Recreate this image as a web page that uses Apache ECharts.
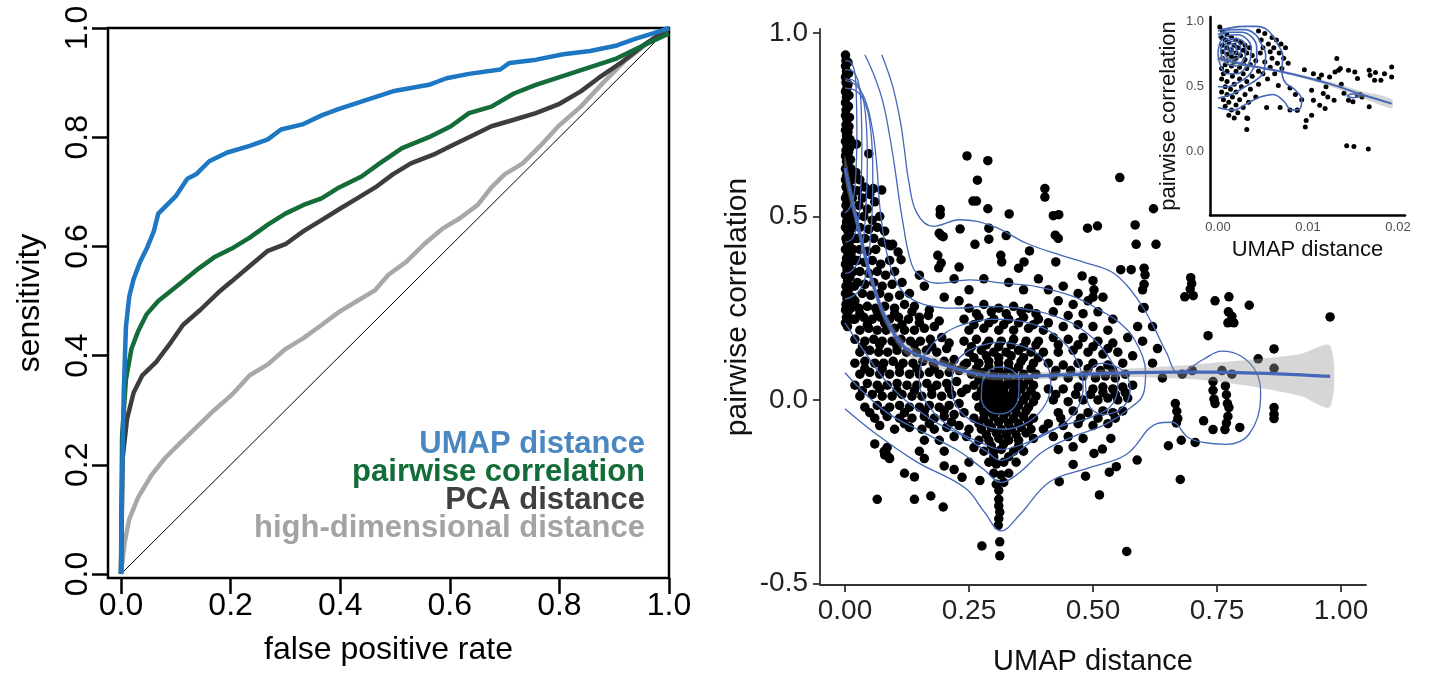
<!DOCTYPE html>
<html>
<head>
<meta charset="utf-8">
<script src="https://cdn.jsdelivr.net/npm/echarts@6/dist/echarts.min.js"></script>
<style>html,body{margin:0;padding:0;background:#fff;}#c{width:1429px;height:685px;}</style>
</head>
<body>
<div id="c"></div>
<script>
// ---------------- ROC curves (left panel) ----------------
const rocTicks = [0, 0.2, 0.4, 0.6, 0.8, 1.0];
const rocDiagonal = [[0, 0], [1, 1]];
const rocUmap = [[0,0],[0.002,0.172],[0.005,0.332],[0.009,0.452],[0.015,0.508],[0.023,0.54],[0.035,0.572],[0.047,0.596],[0.06,0.628],[0.068,0.66],[0.084,0.676],[0.1,0.692],[0.121,0.724],[0.137,0.732],[0.161,0.756],[0.194,0.772],[0.235,0.784],[0.268,0.796],[0.292,0.814],[0.333,0.824],[0.366,0.84],[0.398,0.852],[0.447,0.868],[0.496,0.884],[0.562,0.896],[0.594,0.908],[0.635,0.916],[0.692,0.924],[0.709,0.936],[0.758,0.942],[0.807,0.952],[0.856,0.958],[0.905,0.968],[0.938,0.98],[0.971,0.99],[1,1]];
const rocPairwise = [[0,0],[0.002,0.252],[0.009,0.356],[0.019,0.412],[0.031,0.444],[0.047,0.476],[0.068,0.5],[0.088,0.516],[0.113,0.536],[0.137,0.556],[0.17,0.58],[0.202,0.596],[0.235,0.616],[0.268,0.64],[0.3,0.66],[0.333,0.676],[0.366,0.688],[0.398,0.708],[0.439,0.728],[0.472,0.752],[0.513,0.78],[0.562,0.8],[0.602,0.82],[0.635,0.844],[0.676,0.856],[0.717,0.88],[0.757,0.896],[0.806,0.912],[0.855,0.928],[0.904,0.944],[0.953,0.968],[1,0.99]];
const rocPca = [[0,0],[0.003,0.212],[0.011,0.284],[0.023,0.332],[0.039,0.364],[0.064,0.388],[0.088,0.42],[0.113,0.456],[0.145,0.484],[0.178,0.516],[0.202,0.536],[0.235,0.564],[0.268,0.592],[0.3,0.604],[0.333,0.628],[0.366,0.648],[0.398,0.668],[0.431,0.688],[0.464,0.708],[0.496,0.732],[0.529,0.752],[0.57,0.768],[0.602,0.784],[0.635,0.8],[0.676,0.82],[0.717,0.832],[0.757,0.844],[0.798,0.86],[0.839,0.884],[0.871,0.908],[0.912,0.936],[0.953,0.968],[1,1]];
const rocHighDim = [[0,0],[0.007,0.06],[0.015,0.1],[0.031,0.14],[0.055,0.18],[0.08,0.212],[0.104,0.236],[0.137,0.268],[0.17,0.3],[0.202,0.328],[0.235,0.364],[0.268,0.384],[0.3,0.412],[0.333,0.432],[0.366,0.456],[0.398,0.48],[0.431,0.5],[0.464,0.52],[0.488,0.548],[0.521,0.572],[0.553,0.604],[0.586,0.632],[0.619,0.652],[0.651,0.676],[0.676,0.708],[0.7,0.732],[0.733,0.752],[0.765,0.784],[0.798,0.82],[0.839,0.856],[0.88,0.9],[0.92,0.94],[0.961,0.972],[1,1]];
const rocLegend = ["UMAP distance", "pairwise correlation", "PCA distance", "high-dimensional distance"];

// ---------------- Main scatter (right panel) ----------------
const mainXTicks = [0, 0.25, 0.5, 0.75, 1.0];
const mainYTicks = [-0.5, 0, 0.5, 1.0];
const ptsColumn = [[0.001,0.94],[0.002,0.925],[0.001,0.91],[0.003,0.895],[0.001,0.88],[0.002,0.865],[0.004,0.85],[0.001,0.84],[0.003,0.825],[0.001,0.81],[0.005,0.8],[0.002,0.79],[0.001,0.775],[0.004,0.765],[0.002,0.75],[0.001,0.735],[0.006,0.73],[0.003,0.72],[0.001,0.705],[0.004,0.695],[0.002,0.68],[0.007,0.675],[0.001,0.665],[0.003,0.65],[0.005,0.64],[0.001,0.63],[0.008,0.62],[0.003,0.61],[0.001,0.6],[0.006,0.59],[0.002,0.58],[0.009,0.57],[0.004,0.56],[0.001,0.55],[0.007,0.54],[0.002,0.53],[0.011,0.525],[0.005,0.515],[0.001,0.505],[0.008,0.495],[0.003,0.485],[0.013,0.48],[0.001,0.47],[0.006,0.46],[0.01,0.45],[0.002,0.44],[0.004,0.43],[0.009,0.42],[0.001,0.41],[0.006,0.4],[0.012,0.395],[0.003,0.385],[0.001,0.37],[0.008,0.365],[0.004,0.355],[0.001,0.34],[0.01,0.335],[0.005,0.325],[0.002,0.31],[0.007,0.3],[0.001,0.29],[0.004,0.275],[0.009,0.27],[0.002,0.26],[0.001,0.245],[0.006,0.24],[0.003,0.225],[0.001,0.21],[0.005,0.2],[0.006,0.92],[0.007,0.89],[0.006,0.86],[0.008,0.83],[0.007,0.8],[0.009,0.77],[0.008,0.745],[0.01,0.71],[0.009,0.685],[0.011,0.655],[0.012,0.63],[0.013,0.6],[0.012,0.575],[0.015,0.55],[0.014,0.51],[0.016,0.47],[0.018,0.44],[0.016,0.41],[0.02,0.38],[0.017,0.35],[0.019,0.31],[0.014,0.28],[0.012,0.25],[0.016,0.22]];
const ptsLeft = [[0.022,0.62],[0.03,0.6],[0.025,0.57],[0.04,0.58],[0.035,0.55],[0.05,0.56],[0.028,0.53],[0.045,0.52],[0.06,0.54],[0.022,0.5],[0.038,0.5],[0.055,0.49],[0.07,0.5],[0.03,0.47],[0.048,0.465],[0.065,0.47],[0.08,0.46],[0.025,0.44],[0.04,0.44],[0.058,0.44],[0.075,0.43],[0.092,0.42],[0.03,0.41],[0.045,0.405],[0.062,0.41],[0.025,0.38],[0.04,0.375],[0.055,0.38],[0.072,0.37],[0.09,0.38],[0.03,0.35],[0.048,0.345],[0.065,0.35],[0.082,0.34],[0.1,0.35],[0.025,0.32],[0.04,0.315],[0.058,0.32],[0.075,0.31],[0.095,0.315],[0.115,0.32],[0.035,0.29],[0.052,0.285],[0.07,0.29],[0.088,0.28],[0.11,0.285],[0.13,0.29],[0.02,0.27],[0.028,0.25],[0.045,0.255],[0.062,0.25],[0.08,0.255],[0.1,0.25],[0.12,0.26],[0.14,0.255],[0.02,0.22],[0.038,0.225],[0.055,0.22],[0.072,0.225],[0.09,0.22],[0.108,0.225],[0.128,0.22],[0.15,0.225],[0.168,0.23],[0.03,0.19],[0.048,0.195],[0.065,0.19],[0.083,0.19],[0.1,0.195],[0.12,0.19],[0.14,0.19],[0.16,0.195],[0.18,0.2],[0.02,0.165],[0.04,0.16],[0.058,0.165],[0.075,0.16],[0.095,0.16],[0.113,0.165],[0.132,0.16],[0.152,0.16],[0.172,0.165],[0.195,0.17],[0.03,0.13],[0.05,0.135],[0.068,0.13],[0.086,0.13],[0.105,0.135],[0.124,0.13],[0.144,0.13],[0.164,0.135],[0.185,0.13],[0.205,0.14],[0.02,0.1],[0.04,0.105],[0.06,0.1],[0.078,0.1],[0.097,0.105],[0.117,0.1],[0.137,0.1],[0.157,0.105],[0.178,0.1],[0.2,0.105],[0.22,0.11],[0.03,0.07],[0.05,0.075],[0.07,0.07],[0.09,0.07],[0.11,0.075],[0.13,0.07],[0.15,0.07],[0.17,0.075],[0.19,0.07],[0.21,0.075],[0.23,0.08],[0.02,0.04],[0.045,0.045],[0.065,0.04],[0.085,0.04],[0.105,0.045],[0.125,0.04],[0.145,0.04],[0.165,0.045],[0.185,0.04],[0.205,0.045],[0.225,0.05],[0.03,0.01],[0.055,0.015],[0.075,0.01],[0.095,0.01],[0.115,0.015],[0.135,0.01],[0.155,0.01],[0.175,0.015],[0.195,0.01],[0.215,0.015],[0.235,0.02],[0.04,-0.02],[0.065,-0.015],[0.09,-0.02],[0.11,-0.015],[0.13,-0.02],[0.15,-0.02],[0.17,-0.015],[0.19,-0.02],[0.21,-0.015],[0.23,-0.01],[0.06,-0.05],[0.085,-0.045],[0.11,-0.05],[0.135,-0.05],[0.16,-0.045],[0.18,-0.05],[0.2,-0.045],[0.22,-0.04],[0.1,-0.08],[0.13,-0.075],[0.155,-0.08],[0.18,-0.08],[0.205,-0.075],[0.23,-0.07],[0.085,-0.13],[0.08,-0.15],[0.09,-0.16],[0.16,-0.11],[0.19,-0.11],[0.22,-0.1],[0.15,-0.14],[0.2,-0.14],[0.26,-0.13]];
const ptsLeftFill = [[0.03,0.235],[0.065,0.24],[0.1,0.235],[0.135,0.24],[0.17,0.245],[0.045,0.205],[0.08,0.21],[0.115,0.205],[0.15,0.21],[0.19,0.215],[0.035,0.145],[0.07,0.15],[0.105,0.145],[0.14,0.15],[0.175,0.145],[0.21,0.155],[0.04,0.085],[0.075,0.085],[0.11,0.09],[0.145,0.085],[0.18,0.085],[0.215,0.09],[0.24,0.095],[0.035,0.025],[0.07,0.03],[0.105,0.025],[0.14,0.025],[0.175,0.03],[0.21,0.03],[0.245,0.03],[0.05,-0.035],[0.08,-0.03],[0.12,-0.035],[0.16,-0.03],[0.2,-0.03],[0.24,-0.035],[0.07,-0.07],[0.12,-0.065],[0.17,-0.065],[0.215,-0.06],[0.245,-0.1]];
const ptsCenter = [[0.25,0.25],[0.28,0.26],[0.31,0.25],[0.34,0.255],[0.37,0.25],[0.24,0.22],[0.27,0.225],[0.3,0.22],[0.33,0.22],[0.36,0.225],[0.39,0.22],[0.25,0.19],[0.28,0.195],[0.31,0.19],[0.34,0.19],[0.37,0.195],[0.4,0.19],[0.24,0.16],[0.265,0.165],[0.29,0.16],[0.315,0.16],[0.34,0.165],[0.365,0.16],[0.39,0.16],[0.25,0.13],[0.275,0.135],[0.3,0.13],[0.325,0.13],[0.35,0.135],[0.375,0.13],[0.4,0.13],[0.245,0.1],[0.27,0.1],[0.29,0.105],[0.31,0.1],[0.33,0.1],[0.355,0.105],[0.38,0.1],[0.255,0.07],[0.28,0.075],[0.3,0.07],[0.32,0.07],[0.34,0.075],[0.36,0.07],[0.385,0.07],[0.26,0.04],[0.28,0.04],[0.295,0.045],[0.31,0.04],[0.325,0.04],[0.34,0.045],[0.36,0.04],[0.38,0.04],[0.265,0.01],[0.285,0.01],[0.3,0.015],[0.315,0.01],[0.33,0.01],[0.345,0.015],[0.365,0.01],[0.385,0.01],[0.27,-0.02],[0.29,-0.02],[0.305,-0.015],[0.32,-0.02],[0.335,-0.02],[0.35,-0.015],[0.37,-0.02],[0.26,-0.05],[0.28,-0.05],[0.3,-0.045],[0.32,-0.05],[0.34,-0.05],[0.36,-0.045],[0.38,-0.05],[0.25,-0.08],[0.275,-0.08],[0.295,-0.075],[0.315,-0.08],[0.335,-0.08],[0.355,-0.075],[0.375,-0.08],[0.4,-0.08],[0.27,-0.11],[0.29,-0.11],[0.31,-0.105],[0.33,-0.11],[0.35,-0.11],[0.38,-0.105],[0.28,-0.14],[0.3,-0.14],[0.315,-0.135],[0.34,-0.14],[0.36,-0.14],[0.29,-0.17],[0.305,-0.175],[0.32,-0.17],[0.345,-0.17],[0.3,-0.2],[0.315,-0.205],[0.33,-0.2],[0.305,-0.23],[0.32,-0.225],[0.31,-0.247],[0.31,-0.271],[0.31,-0.289],[0.312,-0.306],[0.31,-0.324],[0.309,-0.342],[0.312,-0.387],[0.312,-0.425],[0.276,-0.398]];
const ptsCenterFill = [[0.265,0.235],[0.295,0.24],[0.325,0.235],[0.355,0.24],[0.385,0.235],[0.26,0.205],[0.29,0.21],[0.32,0.205],[0.35,0.21],[0.38,0.205],[0.255,0.145],[0.285,0.15],[0.31,0.145],[0.335,0.15],[0.36,0.145],[0.385,0.15],[0.26,0.115],[0.285,0.12],[0.31,0.115],[0.335,0.12],[0.36,0.115],[0.39,0.115],[0.265,0.085],[0.29,0.09],[0.31,0.085],[0.33,0.085],[0.35,0.09],[0.375,0.085],[0.27,0.055],[0.29,0.055],[0.31,0.055],[0.33,0.055],[0.35,0.055],[0.37,0.055],[0.275,0.025],[0.29,0.025],[0.305,0.03],[0.32,0.025],[0.34,0.025],[0.355,0.03],[0.375,0.025],[0.28,-0.005],[0.295,-0.005],[0.31,0.0],[0.325,-0.005],[0.34,-0.005],[0.36,0.0],[0.38,-0.005],[0.28,-0.035],[0.295,-0.035],[0.31,-0.03],[0.325,-0.035],[0.345,-0.035],[0.365,-0.03],[0.27,-0.065],[0.29,-0.065],[0.31,-0.06],[0.33,-0.065],[0.35,-0.065],[0.37,-0.06],[0.285,-0.095],[0.305,-0.09],[0.325,-0.095],[0.345,-0.095],[0.365,-0.09],[0.295,-0.125],[0.32,-0.12],[0.35,-0.125],[0.3,-0.155],[0.33,-0.155]];
const ptsMid = [[0.41,0.3],[0.44,0.31],[0.47,0.29],[0.43,0.27],[0.46,0.26],[0.49,0.27],[0.52,0.28],[0.42,0.24],[0.45,0.23],[0.48,0.235],[0.51,0.24],[0.54,0.22],[0.41,0.21],[0.44,0.2],[0.47,0.205],[0.5,0.2],[0.53,0.19],[0.42,0.17],[0.45,0.165],[0.48,0.17],[0.51,0.16],[0.54,0.155],[0.57,0.17],[0.43,0.13],[0.46,0.135],[0.49,0.13],[0.52,0.125],[0.55,0.13],[0.41,0.1],[0.44,0.095],[0.47,0.1],[0.5,0.1],[0.53,0.095],[0.56,0.1],[0.42,0.065],[0.45,0.06],[0.48,0.065],[0.505,0.06],[0.525,0.065],[0.545,0.06],[0.565,0.07],[0.41,0.03],[0.44,0.03],[0.47,0.035],[0.5,0.03],[0.52,0.035],[0.54,0.03],[0.56,0.035],[0.58,0.04],[0.42,0.0],[0.45,-0.005],[0.48,0.0],[0.51,0.0],[0.53,0.005],[0.55,0.0],[0.57,0.005],[0.43,-0.035],[0.46,-0.03],[0.49,-0.035],[0.52,-0.03],[0.54,-0.035],[0.56,-0.03],[0.41,-0.065],[0.44,-0.07],[0.47,-0.065],[0.5,-0.07],[0.53,-0.065],[0.42,-0.1],[0.45,-0.1],[0.48,-0.105],[0.43,-0.135],[0.46,-0.128],[0.502,-0.146],[0.519,-0.134],[0.536,-0.105],[0.485,-0.208],[0.533,-0.197],[0.547,-0.182],[0.589,-0.164],[0.432,-0.223],[0.46,-0.176],[0.513,-0.259],[0.568,-0.413],[0.6,0.25],[0.6,0.3],[0.603,0.315],[0.605,0.341],[0.603,0.359],[0.577,0.355],[0.556,0.355],[0.59,0.2],[0.58,0.12],[0.6,0.16]];
const ptsMidFill = [[0.425,0.08],[0.455,0.08],[0.49,0.085],[0.515,0.08],[0.54,0.08],[0.425,0.015],[0.465,0.015],[0.495,0.015],[0.52,0.02],[0.545,0.015],[0.565,0.02],[0.435,-0.05],[0.475,-0.05],[0.51,-0.05],[0.545,-0.05],[0.43,0.15],[0.47,0.15],[0.5,0.145],[0.53,0.14]];
const ptsUpper = [[0.023,0.697],[0.048,0.671],[0.057,0.576],[0.074,0.572],[0.086,0.424],[0.096,0.424],[0.107,0.403],[0.113,0.382],[0.246,0.665],[0.288,0.652],[0.267,0.599],[0.258,0.542],[0.265,0.542],[0.288,0.521],[0.331,0.507],[0.192,0.519],[0.192,0.505],[0.19,0.454],[0.194,0.448],[0.198,0.445],[0.232,0.466],[0.29,0.468],[0.29,0.438],[0.325,0.448],[0.262,0.424],[0.372,0.406],[0.361,0.376],[0.35,0.359],[0.314,0.394],[0.316,0.376],[0.187,0.394],[0.194,0.373],[0.189,0.36],[0.23,0.362],[0.403,0.576],[0.403,0.553],[0.431,0.505],[0.42,0.502],[0.424,0.449],[0.43,0.44],[0.425,0.376],[0.478,0.338],[0.5,0.325],[0.502,0.3],[0.5,0.28],[0.489,0.468],[0.509,0.474],[0.585,0.477],[0.587,0.424],[0.627,0.424],[0.622,0.521],[0.554,0.606],[0.15,0.34],[0.16,0.31],[0.22,0.33],[0.25,0.3],[0.28,0.33],[0.33,0.32],[0.36,0.3],[0.39,0.33],[0.2,0.28],[0.23,0.27]];
const ptsRight = [[0.603,0.252],[0.697,0.333],[0.699,0.317],[0.696,0.302],[0.685,0.281],[0.702,0.284],[0.746,0.27],[0.774,0.281],[0.773,0.24],[0.78,0.228],[0.772,0.21],[0.784,0.21],[0.815,0.258],[0.978,0.226],[0.732,0.175],[0.833,0.112],[0.865,0.139],[0.865,0.086],[0.666,-0.01],[0.669,-0.031],[0.671,-0.051],[0.668,-0.063],[0.652,-0.125],[0.678,-0.11],[0.706,-0.116],[0.676,-0.217],[0.742,0.05],[0.742,0.026],[0.744,0.002],[0.746,-0.01],[0.767,0.038],[0.769,0.014],[0.771,-0.01],[0.774,-0.021],[0.772,-0.045],[0.769,-0.063],[0.766,-0.081],[0.742,-0.081],[0.796,-0.075],[0.723,-0.057],[0.865,-0.021],[0.865,-0.039],[0.865,-0.051],[0.62,0.1],[0.64,0.06],[0.68,0.07],[0.7,0.08],[0.76,0.08],[0.78,0.07],[0.62,0.2],[0.63,0.14]];
const ptsLower = [[0.065,-0.271],[0.14,-0.271],[0.173,-0.262],[0.198,-0.292],[0.236,-0.211],[0.272,-0.22],[0.079,-0.14],[0.084,-0.15],[0.089,-0.158],[0.06,-0.12],[0.2,-0.18],[0.22,-0.19],[0.25,-0.17],[0.12,-0.2],[0.14,-0.21],[0.16,-0.16]];

// density contours (main)
const contourC1 = [[0.074,0.941],[0.095,0.86],[0.111,0.764],[0.12,0.68],[0.128,0.6],[0.145,0.509],[0.178,0.473],[0.232,0.491],[0.299,0.473],[0.366,0.427],[0.433,0.395],[0.487,0.373],[0.536,0.35],[0.567,0.314],[0.598,0.258],[0.621,0.203],[0.648,0.129],[0.672,0.073],[0.691,0.083],[0.722,0.11],[0.76,0.133],[0.799,0.119],[0.83,0.073],[0.838,0.008],[0.815,-0.093],[0.768,-0.121],[0.722,-0.116],[0.691,-0.102],[0.66,-0.061],[0.629,-0.065],[0.567,-0.149],[0.49,-0.186],[0.413,-0.223],[0.351,-0.315],[0.315,-0.357],[0.281,-0.306],[0.243,-0.241],[0.142,-0.167],[0.06,-0.09],[0,-0.024]];
const contourC2 = [[0.04,0.941],[0.06,0.88],[0.077,0.809],[0.09,0.72],[0.101,0.627],[0.11,0.54],[0.118,0.473],[0.13,0.39],[0.145,0.345],[0.185,0.318],[0.252,0.327],[0.319,0.318],[0.386,0.309],[0.46,0.282],[0.52,0.24],[0.552,0.212],[0.583,0.166],[0.606,0.073],[0.602,0.018],[0.567,-0.03],[0.52,-0.07],[0.46,-0.1],[0.4,-0.14],[0.35,-0.2],[0.315,-0.225],[0.28,-0.19],[0.23,-0.14],[0.16,-0.09],[0.08,-0.03],[0,0.074]];
const contourC3 = [[0,0.87],[0.02,0.86],[0.04,0.82],[0.055,0.74],[0.064,0.64],[0.07,0.53],[0.08,0.43],[0.095,0.35],[0.12,0.29],[0.16,0.26],[0.22,0.25],[0.29,0.255],[0.35,0.25],[0.42,0.23],[0.48,0.19],[0.53,0.12],[0.55,0.05],[0.54,-0.01],[0.5,-0.045],[0.44,-0.07],[0.39,-0.1],[0.34,-0.15],[0.315,-0.165],[0.285,-0.14],[0.24,-0.1],[0.17,-0.05],[0.09,0.04],[0.04,0.13],[0,0.21]];
const contourK1 = [[0,0.925],[0.012,0.92],[0.02,0.89],[0.023,0.82],[0.024,0.72],[0.022,0.62],[0.017,0.55],[0.008,0.52],[0,0.51]];
const contourK2 = [[0,0.9],[0.016,0.895],[0.028,0.86],[0.033,0.78],[0.034,0.68],[0.032,0.58],[0.027,0.49],[0.015,0.44],[0,0.43]];
const contourK3 = [[0,0.875],[0.02,0.868],[0.035,0.83],[0.043,0.75],[0.045,0.65],[0.043,0.55],[0.038,0.45],[0.028,0.38],[0.012,0.35],[0,0.345]];
const contourK4 = [[0,0.85],[0.025,0.84],[0.043,0.8],[0.053,0.72],[0.056,0.62],[0.055,0.52],[0.05,0.42],[0.042,0.34],[0.03,0.3],[0.012,0.28],[0,0.275]];
const contourE1 = [[0.313,0.09],[0.338,0.08],[0.351,0.05],[0.35,0.01],[0.338,-0.025],[0.313,-0.038],[0.288,-0.028],[0.275,0.005],[0.277,0.05],[0.29,0.08],[0.313,0.09]];
const contourE2 = [[0.31,0.158],[0.36,0.145],[0.4,0.11],[0.415,0.05],[0.405,-0.01],[0.37,-0.06],[0.32,-0.08],[0.27,-0.065],[0.232,-0.03],[0.215,0.03],[0.22,0.09],[0.25,0.135],[0.31,0.158]];
const contourE3 = [[0.3,0.22],[0.37,0.21],[0.43,0.17],[0.47,0.1],[0.48,0.03],[0.46,-0.04],[0.41,-0.09],[0.35,-0.125],[0.315,-0.135],[0.28,-0.12],[0.22,-0.08],[0.17,-0.02],[0.15,0.05],[0.16,0.12],[0.2,0.18],[0.25,0.21],[0.3,0.22]];
const contourE4 = [[0.52,0.1],[0.56,0.08],[0.575,0.03],[0.56,-0.02],[0.52,-0.04],[0.49,-0.01],[0.485,0.05],[0.5,0.09],[0.52,0.1]];

// loess fit (main)
const mainFitX = [0,0.02,0.05,0.08,0.12,0.17,0.23,0.29,0.35,0.45,0.55,0.62,0.7,0.78,0.85,0.92,0.978];
const mainFitY = [0.632,0.51,0.345,0.228,0.143,0.11,0.083,0.066,0.064,0.069,0.073,0.075,0.076,0.075,0.072,0.068,0.064];
const mainFitLower = [0.597,0.485,0.325,0.21,0.127,0.096,0.071,0.055,0.054,0.059,0.062,0.061,0.056,0.045,0.03,0.01,-0.019];
const mainFitUpper = [0.667,0.535,0.365,0.246,0.159,0.124,0.095,0.077,0.074,0.079,0.084,0.089,0.096,0.105,0.114,0.126,0.147];

// ---------------- Inset ----------------
const insetXTicks = [0, 0.01, 0.02];
const insetYTicks = [0, 0.5, 1.0];
const insetPtsBlob = [[0.0002,0.96],[0.0005,0.93],[0.001,0.9],[0.0004,0.88],[0.0015,0.88],[0.0008,0.86],[0.002,0.86],[0.0012,0.84],[0.0025,0.84],[0.0005,0.82],[0.0018,0.82],[0.003,0.82],[0.001,0.8],[0.0022,0.8],[0.0035,0.8],[0.0015,0.78],[0.0028,0.78],[0.0005,0.77],[0.002,0.76],[0.0032,0.76],[0.001,0.75],[0.0025,0.74],[0.0038,0.74],[0.0015,0.73],[0.0005,0.72],[0.002,0.72],[0.003,0.71],[0.001,0.7],[0.0042,0.7],[0.0018,0.69],[0.0028,0.68],[0.0008,0.67],[0.0036,0.67],[0.0015,0.66],[0.0024,0.65],[0.0004,0.64],[0.0032,0.64],[0.001,0.62],[0.002,0.62],[0.0045,0.62],[0.0028,0.6],[0.0006,0.6],[0.0016,0.58],[0.0038,0.58],[0.0024,0.56],[0.0004,0.56],[0.001,0.54],[0.0032,0.54],[0.0018,0.52],[0.0045,0.52],[0.0008,0.5],[0.0026,0.5],[0.0014,0.48],[0.0036,0.48],[0.0004,0.46],[0.002,0.46],[0.001,0.44],[0.003,0.44],[0.0016,0.42],[0.0042,0.42],[0.0006,0.4],[0.0024,0.4],[0.0012,0.38],[0.0034,0.38],[0.002,0.36],[0.0008,0.35],[0.0028,0.34],[0.0015,0.32],[0.0022,0.3],[0.0012,0.28],[0.0032,0.26],[0.0018,0.26]];
const insetPtsEdge = [[0.0045,0.93],[0.0052,0.91],[0.006,0.88],[0.0048,0.86],[0.0065,0.86],[0.0056,0.83],[0.007,0.83],[0.005,0.8],[0.0062,0.8],[0.0075,0.8],[0.0058,0.77],[0.0068,0.76],[0.0047,0.76],[0.0073,0.72],[0.006,0.72],[0.0052,0.69],[0.0066,0.68],[0.0078,0.68],[0.0058,0.65],[0.0071,0.64],[0.005,0.6],[0.0063,0.6],[0.0055,0.56],[0.0067,0.51],[0.008,0.49],[0.0086,0.44],[0.0093,0.4],[0.0088,0.32],[0.008,0.32],[0.0069,0.34],[0.0054,0.34],[0.0098,0.24],[0.0097,0.19],[0.0104,0.28],[0.0032,0.17],[0.0033,0.256]];
const insetPtsFar = [[0.0096,0.63],[0.0106,0.6],[0.0115,0.59],[0.0124,0.575],[0.013,0.614],[0.0134,0.627],[0.0132,0.717],[0.0136,0.64],[0.0145,0.627],[0.0152,0.614],[0.0155,0.563],[0.0168,0.627],[0.0169,0.588],[0.0174,0.55],[0.0181,0.55],[0.0193,0.652],[0.0193,0.575],[0.0104,0.473],[0.0106,0.396],[0.0113,0.358],[0.0119,0.332],[0.0129,0.396],[0.0145,0.396],[0.015,0.384],[0.0168,0.345],[0.0155,0.435],[0.0143,0.046],[0.0151,0.04],[0.0167,0.02],[0.0117,0.447],[0.0088,0.319],[0.0112,0.56],[0.0122,0.42],[0.014,0.45],[0.016,0.42],[0.0175,0.61],[0.0185,0.6],[0.012,0.5],[0.0158,0.44],[0.0137,0.52]];
const insetContour1 = [[0,0.93],[0.0015,0.955],[0.003,0.965],[0.0043,0.965],[0.0052,0.95],[0.006,0.9],[0.0066,0.83],[0.0072,0.74],[0.0071,0.62],[0.0075,0.53],[0.0085,0.48],[0.0093,0.4],[0.0091,0.33],[0.0082,0.32],[0.0073,0.39],[0.0061,0.44],[0.0047,0.42],[0.0032,0.37],[0.0017,0.32],[0,0.34]];
const insetContour2 = [[0,0.9],[0.0015,0.94],[0.003,0.94],[0.0042,0.9],[0.0048,0.83],[0.0053,0.75],[0.0052,0.66],[0.005,0.6],[0.0042,0.55],[0.003,0.5],[0.0018,0.45],[0.0005,0.42],[0,0.41]];
const insetContour3 = [[0,0.88],[0.0012,0.92],[0.0026,0.92],[0.0038,0.88],[0.0043,0.8],[0.0043,0.72],[0.004,0.65],[0.0033,0.58],[0.0022,0.53],[0.001,0.5],[0,0.5]];
const insetContour4 = [[0.0002,0.84],[0.001,0.89],[0.0022,0.9],[0.0033,0.86],[0.0037,0.79],[0.0036,0.71],[0.003,0.64],[0.0021,0.6],[0.001,0.6],[0.0003,0.66],[0,0.75],[0.0002,0.84]];
const insetContour5 = [[0.0004,0.82],[0.0011,0.87],[0.002,0.87],[0.003,0.83],[0.0031,0.77],[0.0028,0.7],[0.0021,0.66],[0.0012,0.67],[0.0006,0.71],[0.0003,0.77],[0.0004,0.82]];
const insetContour6 = [[0.0007,0.81],[0.0012,0.85],[0.0019,0.85],[0.0025,0.81],[0.0025,0.76],[0.0021,0.72],[0.0014,0.71],[0.0009,0.74],[0.0007,0.81]];
const insetContour7 = [[0.001,0.8],[0.0014,0.83],[0.0019,0.82],[0.0021,0.78],[0.0018,0.75],[0.0013,0.76],[0.001,0.8]];
const insetContour8 = [[0.0013,0.79],[0.0015,0.805],[0.0017,0.795],[0.0016,0.775],[0.0013,0.79]];
const insetContour9 = [[0.0143,0.43],[0.015,0.445],[0.0158,0.43],[0.015,0.415],[0.0143,0.43]];
const insetFitX = [0,0.003,0.006,0.009,0.0125,0.016,0.0193];
const insetFitY = [0.717,0.67,0.63,0.585,0.52,0.44,0.37];
const insetFitLower = [0.692,0.655,0.62,0.573,0.502,0.415,0.335];
const insetFitUpper = [0.742,0.685,0.64,0.597,0.538,0.465,0.405];

// ---------------- build chart ----------------
const FONT = "'Liberation Sans', Arial, Helvetica, sans-serif";
const BLUE = '#4567b7';
const chart = echarts.init(document.getElementById('c'), null, {renderer: 'canvas'});

function lineSeries(data, color, width, xi, z) {
  return {type: 'line', data: data, xAxisIndex: xi, yAxisIndex: xi, showSymbol: false, symbol: 'none',
    lineStyle: {color: color, width: width}, z: z, silent: true, clip: true};
}
function contour(data, xi, w) {
  return Object.assign(lineSeries(data, BLUE, w, xi, 4), {smooth: 0.4});
}
function band(xs, lo, hi, xi) {
  return {type: 'custom', xAxisIndex: xi, yAxisIndex: xi, data: [[xs[0], lo[0]]], z: 5, silent: true, clip: true,
    renderItem: function (params, api) {
      const pts = [];
      for (let i = 0; i < xs.length; i++) pts.push(api.coord([xs[i], hi[i]]));
      for (let i = xs.length - 1; i >= 0; i--) pts.push(api.coord([xs[i], lo[i]]));
      return {type: 'polygon', shape: {points: pts, smooth: 0.3}, style: {fill: 'rgba(153,153,153,0.4)'}};
    }};
}
function zip(xs, ys) { return xs.map((x, i) => [x, ys[i]]); }

const mainPts = [].concat(ptsColumn, ptsLeft, ptsLeftFill, ptsCenter, ptsCenterFill, ptsMid, ptsMidFill, ptsUpper, ptsRight, ptsLower);
const insetPts = [].concat(insetPtsBlob, insetPtsEdge, insetPtsFar);

const option = {
  animation: false,
  backgroundColor: '#fff',
  textStyle: {fontFamily: FONT},
  grid: [
    {left: 108, top: 28, width: 561, height: 550, show: true, borderColor: '#000', borderWidth: 2.5, backgroundColor: 'transparent'},
    {left: 820, top: 29, width: 546, height: 556},
    {left: 1210, top: 17, width: 195, height: 198}
  ],
  xAxis: [
    {type: 'value', gridIndex: 0, min: -0.0237, max: 1, axisLine: {show: false, onZero: false}, splitLine: {show: false},
      axisTick: {show: true, customValues: rocTicks, length: 16, lineStyle: {color: '#000', width: 2.5}},
      axisLabel: {customValues: rocTicks, formatter: v => v.toFixed(1), fontSize: 32, color: '#000', margin: 12, fontFamily: FONT},
      name: 'false positive rate', nameLocation: 'middle', nameGap: 56, nameTextStyle: {fontSize: 32, color: '#000', fontFamily: FONT}},
    {type: 'value', gridIndex: 1, min: -0.0504, max: 1.0504, splitLine: {show: false},
      axisLine: {show: true, onZero: false, lineStyle: {color: '#333', width: 1.8}},
      axisTick: {show: true, customValues: mainXTicks, length: 7, lineStyle: {color: '#333', width: 1.8}},
      axisLabel: {customValues: mainXTicks, formatter: v => v.toFixed(2), fontSize: 28, color: '#222', margin: 12, fontFamily: FONT},
      name: 'UMAP distance', nameLocation: 'middle', nameGap: 62, nameTextStyle: {fontSize: 29, color: '#111', fontFamily: FONT}},
    {type: 'value', gridIndex: 2, min: -0.00089, max: 0.02078, splitLine: {show: false},
      axisLine: {show: true, onZero: false, lineStyle: {color: '#000', width: 2.5}},
      axisTick: {show: false},
      axisLabel: {customValues: insetXTicks, formatter: v => v.toFixed(2), fontSize: 13, color: '#4d4d4d', margin: 6, fontFamily: FONT},
      name: 'UMAP distance', nameLocation: 'middle', nameGap: 24, nameTextStyle: {fontSize: 22, color: '#111', fontFamily: FONT}}
  ],
  yAxis: [
    {type: 'value', gridIndex: 0, min: -0.0073, max: 1, axisLine: {show: false, onZero: false}, splitLine: {show: false},
      axisTick: {show: true, customValues: rocTicks, length: 16, lineStyle: {color: '#000', width: 2.5}},
      axisLabel: {customValues: rocTicks, formatter: v => v.toFixed(1), fontSize: 32, color: '#000', margin: 14, rotate: 90, fontFamily: FONT},
      name: 'sensitivity', nameLocation: 'middle', nameGap: 62, nameRotate: 90, nameTextStyle: {fontSize: 32, color: '#000', fontFamily: FONT}},
    {type: 'value', gridIndex: 1, min: -0.5046, max: 1.011, splitLine: {show: false},
      axisLine: {show: true, onZero: false, lineStyle: {color: '#333', width: 1.8}},
      axisTick: {show: true, customValues: mainYTicks, length: 7, lineStyle: {color: '#333', width: 1.8}},
      axisLabel: {customValues: mainYTicks, formatter: v => v.toFixed(1), fontSize: 28, color: '#222', margin: 12, fontFamily: FONT},
      name: 'pairwise correlation', nameLocation: 'middle', nameGap: 67, nameRotate: 90, nameTextStyle: {fontSize: 30, color: '#111', fontFamily: FONT}},
    {type: 'value', gridIndex: 2, min: -0.488, max: 1.037, splitLine: {show: false},
      axisLine: {show: true, onZero: false, lineStyle: {color: '#000', width: 2.5}},
      axisTick: {show: false},
      axisLabel: {customValues: insetYTicks, formatter: v => v.toFixed(1), fontSize: 13, color: '#4d4d4d', margin: 6, fontFamily: FONT},
      name: 'pairwise correlation', nameLocation: 'middle', nameGap: 30, nameRotate: 90, nameTextStyle: {fontSize: 22, color: '#111', fontFamily: FONT}}
  ],
  series: [
    lineSeries(rocDiagonal, '#000', 1, 0, 2),
    lineSeries(rocHighDim, '#a8a8a8', 4.5, 0, 3),
    lineSeries(rocPca, '#3d3d3d', 4.5, 0, 4),
    lineSeries(rocPairwise, '#146c38', 4.5, 0, 5),
    lineSeries(rocUmap, '#1d77c3', 4.5, 0, 6),

    {type: 'scatter', xAxisIndex: 1, yAxisIndex: 1, data: mainPts, symbolSize: 9.5, itemStyle: {color: '#000', opacity: 1}, z: 2, silent: true},
    contour(contourC1, 1, 1.3), contour(contourC2, 1, 1.3), contour(contourC3, 1, 1.3),
    contour(contourK1, 1, 1.3), contour(contourK2, 1, 1.3), contour(contourK3, 1, 1.3), contour(contourK4, 1, 1.3),
    contour(contourE1, 1, 1.3), contour(contourE2, 1, 1.3), contour(contourE3, 1, 1.3), contour(contourE4, 1, 1.3),
    band(mainFitX, mainFitLower, mainFitUpper, 1),
    Object.assign(lineSeries(zip(mainFitX, mainFitY), BLUE, 3.2, 1, 6), {smooth: 0.3}),

    {type: 'scatter', xAxisIndex: 2, yAxisIndex: 2, data: insetPts, symbolSize: 5, itemStyle: {color: '#000', opacity: 1}, z: 2, silent: true},
    contour(insetContour1, 2, 1.6), contour(insetContour2, 2, 1.6), contour(insetContour3, 2, 1.6),
    contour(insetContour4, 2, 1.6), contour(insetContour5, 2, 1.6), contour(insetContour6, 2, 1.6),
    contour(insetContour7, 2, 1.6), contour(insetContour8, 2, 1.6), contour(insetContour9, 2, 1.6),
    band(insetFitX, insetFitLower, insetFitUpper, 2),
    Object.assign(lineSeries(zip(insetFitX, insetFitY), BLUE, 2, 2, 6), {smooth: 0.3})
  ],
  graphic: [
    {type: 'text', right: 1429 - 645, top: 429, style: {text: rocLegend[0], fill: '#4a86c0', font: 'bold 31px ' + FONT, textAlign: 'right'}},
    {type: 'text', right: 1429 - 645, top: 457, style: {text: rocLegend[1], fill: '#146c38', font: 'bold 31px ' + FONT, textAlign: 'right'}},
    {type: 'text', right: 1429 - 645, top: 485, style: {text: rocLegend[2], fill: '#404040', font: 'bold 31px ' + FONT, textAlign: 'right'}},
    {type: 'text', right: 1429 - 645, top: 513, style: {text: rocLegend[3], fill: '#a3a3a3', font: 'bold 31px ' + FONT, textAlign: 'right'}}
  ]
};
chart.setOption(option);
</script>
</body>
</html>
